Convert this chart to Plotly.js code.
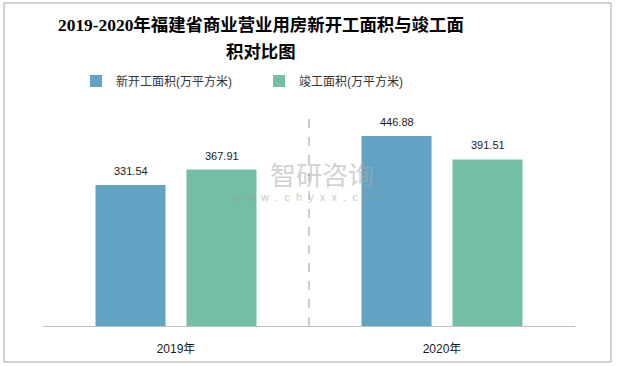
<!DOCTYPE html>
<html><head><meta charset="utf-8">
<script src="https://cdn.plot.ly/plotly-3.0.1.min.js"></script>
<style>html,body{margin:0;padding:0;background:#fff}#chart{width:617px;height:366px}</style>
</head><body><div id="chart"></div>
<script>
const categories = ['2019年', '2020年'];
const seriesNames = ['新开工面积(万平方米)', '竣工面积(万平方米)'];
const newStarts = [331.54, 446.88];
const completed = [367.91, 391.51];
const colors = ['#62A3C3', '#75BEA6'];
const titleLines = ['2019-2020年福建省商业营业用房新开工面积与竣工面', '积对比图'];

const cjk = '"Liberation Sans", "Noto Sans CJK SC", sans-serif';
const traces = [
  {type:'bar', name:seriesNames[0], x:categories, y:newStarts, marker:{color:colors[0]}, hoverinfo:'none'},
  {type:'bar', name:seriesNames[1], x:categories, y:completed, marker:{color:colors[1]}, hoverinfo:'none'}
];

const px2x = p => (p-43)/532;
const px2y = p => (326-p)/228;

const annotations = [];
[newStarts, completed].forEach((vals, si) => {
  vals.forEach((v, i) => {
    annotations.push({x:categories[i], y:v, xref:'x', yref:'y', text:v.toFixed(2), showarrow:false,
      xanchor:'center', yanchor:'bottom', yshift:6, xshift: si===0 ? -45.5 : 45.5,
      font:{family:cjk, size:11, color:'#1a1a1a'}});
  });
});
const titleFont = {family:'"Liberation Serif", "Noto Sans CJK SC", serif', size:17.4, color:'#000', weight:'bold'};
annotations.push({xref:'paper', yref:'paper', x:px2x(261), y:px2y(25), text:titleLines[0], showarrow:false,
  xanchor:'center', yanchor:'middle', font:titleFont});
annotations.push({xref:'paper', yref:'paper', x:px2x(261), y:px2y(52), text:titleLines[1], showarrow:false,
  xanchor:'center', yanchor:'middle', font:titleFont});
annotations.push({xref:'paper', yref:'paper', x:px2x(322), y:px2y(173), text:'智研咨询', showarrow:false,
  font:{family:'"Noto Sans CJK SC", sans-serif', size:26, color:'rgba(170,170,170,0.55)'}, xanchor:'center', yanchor:'middle'});
annotations.push({xref:'paper', yref:'paper', x:px2x(308), y:px2y(197), text:'w&nbsp; w&nbsp; w&nbsp; .&nbsp; c&nbsp; h&nbsp; y&nbsp; x&nbsp; x&nbsp; .&nbsp; c&nbsp; o&nbsp; m', showarrow:false,
  font:{family:'"Liberation Sans", sans-serif', size:11, color:'rgba(150,150,150,0.55)'}, xanchor:'center', yanchor:'middle'});

const layout = {
  width:617, height:366,
  margin:{l:43, r:42, t:98, b:40},
  paper_bgcolor:'#fff', plot_bgcolor:'#fff',
  barmode:'group', bargap:0.316, bargroupgap:0.23,
  xaxis:{showline:true, linecolor:'#bfbfbf', linewidth:1, ticks:'', showgrid:false, zeroline:false,
    tickfont:{family:cjk, size:12, color:'#1a1a1a'}, ticklabelstandoff:12, fixedrange:true},
  yaxis:{range:[0,536.1], visible:false, showgrid:false, zeroline:false, fixedrange:true},
  showlegend:true,
  legend:{orientation:'h', x:px2x(76), xanchor:'left', y:px2y(81), yanchor:'middle',
    font:{family:cjk, size:12, color:'#333'}, itemwidth:30, entrywidth:138, entrywidthmode:'pixels', traceorder:'normal'},
  annotations:annotations,
  shapes:[
    {type:'line', xref:'paper', yref:'paper', x0:0.5, x1:0.5, y0:0, y1:px2y(112),
      line:{color:'#bfbfbf', width:1.5, dash:'dash'}},
    {type:'rect', xref:'paper', yref:'paper', x0:px2x(4), x1:px2x(611), y0:px2y(362), y1:px2y(3),
      line:{color:'#a6a6a6', width:1}}
  ]
};
Plotly.newPlot('chart', traces, layout, {displayModeBar:false, staticPlot:true});
</script></body></html>
